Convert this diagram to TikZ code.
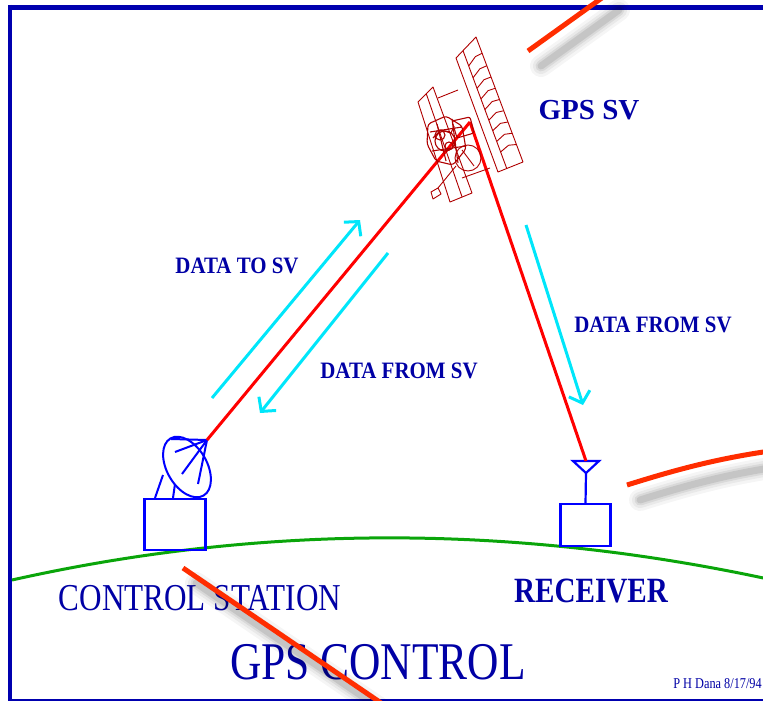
\documentclass[tikz,border=0pt]{standalone}
\usepackage{fontspec}
\setmainfont{Liberation Serif}
\newfontfamily\narrowserif[FakeStretch=0.82]{Liberation Serif}
\newfontfamily\labelserif[FakeStretch=0.89]{Liberation Serif}
\usetikzlibrary{arrows.meta, calc}
\definecolor{GPSNavy}{RGB}{0,0,165}
\definecolor{GPSBlue}{RGB}{0,0,255}
\definecolor{GPSFrame}{RGB}{0,0,175}
\definecolor{GPSRed}{RGB}{255,0,0}
\definecolor{GPSSat}{RGB}{175,0,0}
\definecolor{GPSCyan}{RGB}{0,230,250}
\definecolor{GPSGreen}{RGB}{10,165,10}
\definecolor{MarkRed}{RGB}{255,45,0}

% red pointer stroke with a soft drop shadow
\newcommand{\pointer}[1]{%
  \foreach \w/\o in {22/0.04,16/0.05,11/0.07,7/0.09}
    \draw[black, line width=\w pt, opacity=\o, line cap=round, shift={(13,15)}] #1;
  \draw[annot] #1;}

\begin{document}
\begin{tikzpicture}[x=1pt, y=-1pt,
    hw/.style={draw=GPSBlue, line width=2.5pt},
    signal/.style={draw=GPSRed, line width=3pt},
    flow/.style={draw=GPSCyan, line width=3pt, -{Straight Barb[length=10pt, width=22pt]}},
    sat/.style={draw=GPSSat, line width=0.9pt, line join=round},
    lbl/.style={text=GPSNavy, inner sep=0pt},
    datalbl/.style={lbl, font=\labelserif\bfseries\fontsize{23.5}{25}\selectfont},
    annot/.style={draw=MarkRed, line width=5pt}
  ]
  \useasboundingbox (0,0) rectangle (763,701);
  \clip (0,0) rectangle (763,701);

  % frame
  \draw[GPSFrame, line width=5pt] (10,7.5) -- (770,7.5);
  \draw[GPSFrame, line width=4pt] (10,5) -- (10,702);
  \draw[GPSFrame, line width=2.5pt] (10,700) -- (770,700);

  % earth
  \draw[GPSGreen, line width=3pt] (12,580) .. controls (262,524) and (512,524) .. (768,579);

  % stations
  \node[hw, minimum width=61pt, minimum height=51pt, inner sep=0pt, outer sep=0pt] (station) at (175,524.5) {};
  \node[hw, minimum width=50pt, minimum height=42pt, inner sep=0pt, outer sep=0pt] (rcvr) at (585.5,525) {};

  % dish
  \coordinate (feed) at (207,440);
  \draw[hw, line width=2pt, rotate around={30:(187,467)}] (187,467) ellipse (20 and 33);
  \draw[hw, line width=2pt] (171,439) -- (feed);
  \draw[hw, line width=2pt] (feed) -- (175,452);
  \draw[hw, line width=2pt] (feed) -- (182,474);
  \draw[hw, line width=2pt] (feed) -- (198,484);
  \draw[hw, line width=2pt] (155,498) -- (163,475);
  \draw[hw, line width=2pt] (173,498) -- (175,484);

  % receiver antenna
  \coordinate (ant) at (586,461);
  \draw[hw, line width=2.2pt] (573,461) -- (599,461) -- (586,473) -- cycle;
  \draw[hw, line width=2.2pt] (586,473) -- (rcvr.north);

  % links
  \coordinate (sv) at (470,122);
  \draw[signal] (feed) -- (sv);
  \draw[signal] (sv) -- (ant);

  \coordinate (up0) at (212,398);  \coordinate (up1) at (360,220);
  \coordinate (dnA0) at (388,253); \coordinate (dnA1) at (260,413);
  \coordinate (dnB0) at (526,225); \coordinate (dnB1) at (583,405);
  \draw[flow] (up0) -- (up1);
  \draw[flow] (dnA0) -- (dnA1);
  \draw[flow] (dnB0) -- (dnB1);

  % satellite
  \begin{scope}[sat]
    \coordinate (pa1) at (456,58);  \coordinate (pa2) at (476,37);
    \coordinate (pa3) at (523,162); \coordinate (pa4) at (498,172);
    \draw (pa1) -- (pa2) -- (pa3) -- (pa4) -- cycle;
    \coordinate (div0) at ($(pa1)!0.35!(pa2)$);
    \coordinate (div1) at ($(pa4)!0.35!(pa3)$);
    \draw (div0) -- (div1);
    \foreach \t in {0.13,0.23,0.32,0.41,0.50,0.59,0.68,0.77,0.86}
      \draw ($(div0)!\t!(div1)$) -- ($($(div0)!\t!(div1)$)!0.5!($(pa2)!\t!(pa3)$)+(0,-3)$) -- ($(pa2)!\t!(pa3)$);
    \coordinate (pb1) at (418,102); \coordinate (pb2) at (433,87);
    \coordinate (pb3) at (472,193); \coordinate (pb4) at (450,202);
    \draw (pb1) -- (pb2) -- (pb3) -- (pb4) -- cycle;
    \draw ($(pb1)!0.55!(pb2)$) -- ($(pb4)!0.55!(pb3)$);
    \draw (438,98) -- (458,90);
    \draw (462,178) -- (490,168);
    % body
    \begin{scope}[line width=1.1pt]
      \draw[rounded corners=3pt] (428,124) -- (446,116) -- (462,126) -- (466,149) -- (453,165) -- (436,161) -- (427,144) -- cycle;
      \draw (445,141) circle (10);
      \draw (440,135) circle (5);
      \draw (449,146) circle (4);
      \draw[rounded corners=2pt] (452,121) -- (470,117) -- (474,133) -- (457,138) -- cycle;
      \draw (430,132) -- (462,127);
      \draw (432,151) -- (466,146);
      \draw (437,124) -- (446,161);
      \draw (452,119) -- (458,163);
      \draw (433,138) -- (441,130) -- (451,133) -- (454,126);
    \end{scope}
    \draw (468,158) circle (13);
    \draw (462,150) -- (474,166);
    \draw (456,166) -- (438,188);
    \draw (438,188) -- (431,192) -- (433,199) -- (441,194) -- cycle;
  \end{scope}

  % labels
  \node[lbl, font=\bfseries\fontsize{29}{31}\selectfont] (svname) at (589,110) {GPS SV};
  \node[datalbl] (uplinkname) at (237,266) {DATA TO SV};
  \node[datalbl] (dnAname) at (399,371) {DATA FROM SV};
  \node[datalbl] (dnBname) at (653,325) {DATA FROM SV};
  \node[lbl, font=\narrowserif\fontsize{38}{40}\selectfont] (stationname) at (200,598) {CONTROL STATION};
  \node[lbl, font=\narrowserif\bfseries\fontsize{35.5}{37}\selectfont] (rcvrname) at (591,591) {RECEIVER};
  \node[lbl, font=\narrowserif\fontsize{53}{55}\selectfont] (title) at (378,662) {GPS CONTROL};
  \node[lbl, font=\narrowserif\fontsize{15}{16}\selectfont, anchor=base east] (credit) at (762,688) {P H Dana 8/17/94};

  % pointers
  \pointer{(528,51) -- (606,-5)}
  \pointer{(627,485) .. controls (675,470) and (715,459) .. (770,451)}
  \pointer{(183,568) -- (384,705)}
\end{tikzpicture}
\end{document}
